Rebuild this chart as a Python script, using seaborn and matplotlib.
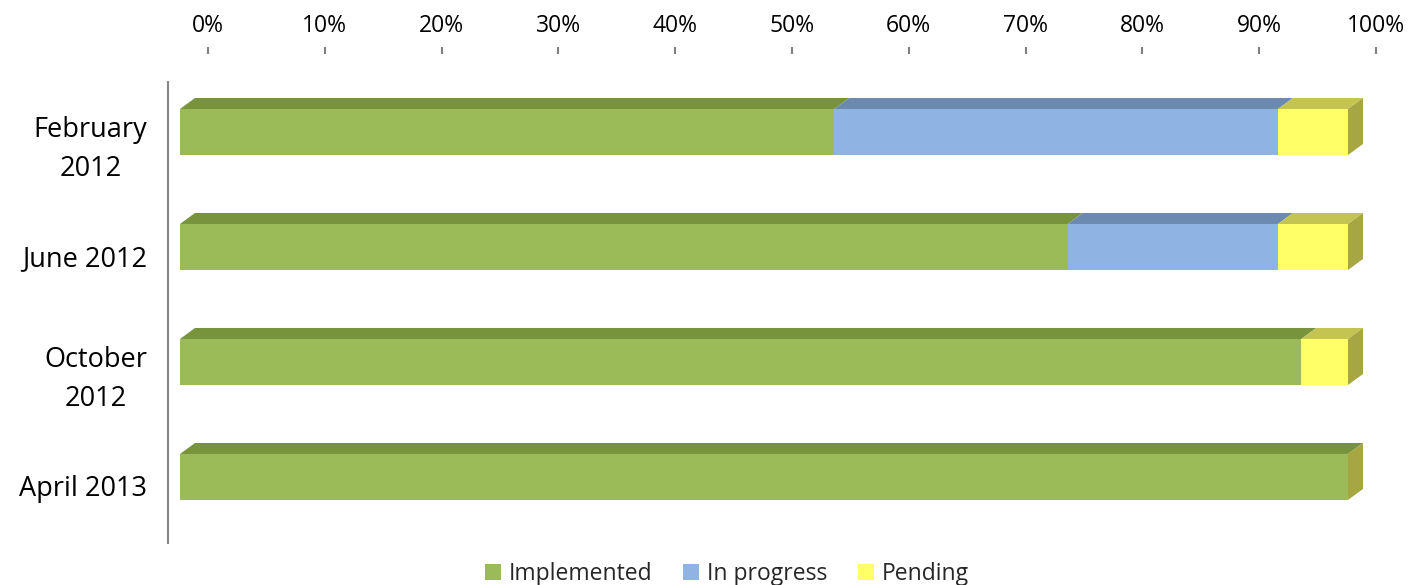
import numpy as np
import matplotlib
matplotlib.use('Agg')
import matplotlib.pyplot as plt
from matplotlib.patches import Patch
from matplotlib.transforms import ScaledTranslation
import pandas as pd
import seaborn as sns

# values (percent)
categories = ['February\n2012', 'June 2012', 'October\n2012', 'April 2013']
implemented = [56, 76, 96, 100]
in_progress = [38, 18, 0, 0]
pending = [6, 6, 4, 0]
series_names = ['Implemented', 'In progress', 'Pending']
tick_values = list(range(0, 101, 10))
tick_labels = [str(v) + '%' for v in tick_values]

front_cols = ['#9BBB59', '#8EB4E3', '#FFFF66']
top_cols = ['#77933C', '#6C8AB0', '#C4C452']
side_col = '#A6A642'

sns.set_theme(style='white')
plt.rcParams['font.family'] = ['Open Sans', 'DejaVu Sans']

df = pd.DataFrame({'cat': categories, 'imp': implemented,
                   'prog': in_progress, 'pend': pending})
df['c1'] = df['imp']
df['c2'] = df['imp'] + df['prog']
df['c3'] = df['c2'] + df['pend']

W, H = 1410, 585
fig = plt.figure(figsize=(W / 100, H / 100), dpi=100)
ax = fig.add_axes([208 / W, (H - 543) / H, 1168 / W, (543 - 82) / H])

# stacked by overlaying cumulative totals
sns.barplot(data=df, x='c3', y='cat', orient='h', color=front_cols[2],
            saturation=1, width=0.4, ax=ax)
sns.barplot(data=df, x='c2', y='cat', orient='h', color=front_cols[1],
            saturation=1, width=0.4, ax=ax)
sns.barplot(data=df, x='c1', y='cat', orient='h', color=front_cols[0],
            saturation=1, width=0.4, ax=ax)

ax.set_xlim(0, 100)
ax.set_ylim(3.496, -0.513)

# front faces sit left of the back wall (and a bit above the label centre)
off = ScaledTranslation(-28 / 100, 9 / 100, fig.dpi_scale_trans)
for p in ax.patches:
    p.set_linewidth(0)
    p.set_clip_on(False)
    p.set_transform(ax.transData + off)

# depth of the 3d boxes, in data units
p0 = ax.transData.transform((0, 0))
p1 = ax.transData.transform((1, 1))
ddx = 15 / abs(p1[0] - p0[0])
ddy = 11 / abs(p1[1] - p0[1])

half = 0.2
for i in range(len(categories)):
    yt = i - half
    yb = i + half
    edges = [0, df['c1'][i], df['c2'][i], df['c3'][i]]
    for j in range(3):
        a, b = edges[j], edges[j + 1]
        if b <= a:
            continue
        ax.fill([a, b, b + ddx, a + ddx], [yt, yt, yt - ddy, yt - ddy],
                color=top_cols[j], lw=0, clip_on=False,
                transform=ax.transData + off)
    T = edges[-1]
    ax.fill([T, T, T + ddx, T + ddx], [yt, yb, yb - ddy, yt - ddy],
            color=side_col, lw=0, clip_on=False, transform=ax.transData + off)

# axes styling
ax.set_xlabel('')
ax.set_ylabel('')
ax.xaxis.tick_top()
ax.set_xticks(tick_values)
ax.set_xticklabels(tick_labels)
ax.spines['top'].set_position(('outward', 28 * 0.72))
ax.spines['top'].set_visible(False)
ax.spines['right'].set_visible(False)
ax.spines['bottom'].set_visible(False)
ax.spines['left'].set_position(('outward', 40 * 0.72))
ax.spines['left'].set_color('#868686')
ax.spines['left'].set_linewidth(1.5)
ax.tick_params(axis='x', which='both', top=True, bottom=False, direction='out',
               length=5, width=1.5, color='#7F7F7F', pad=6.5, labelsize=16.5,
               labelcolor='black')
ax.tick_params(axis='y', left=False, length=0, pad=15, labelsize=19.5,
               labelcolor='black')
for lab in ax.get_yticklabels():
    lab.set_multialignment('center')
    lab.set_linespacing(1.5)

handles = [Patch(facecolor=c, edgecolor='none') for c in front_cols]
fig.legend(handles, series_names, loc='center', bbox_to_anchor=(727 / W, 1 - 574 / H),
           ncol=3, frameon=False, fontsize=16.5, handlelength=0.68, handleheight=0.68,
           handletextpad=0.35, columnspacing=1.35, borderpad=0)

fig.savefig('out.png', dpi=100, facecolor='white')
plt.close()
